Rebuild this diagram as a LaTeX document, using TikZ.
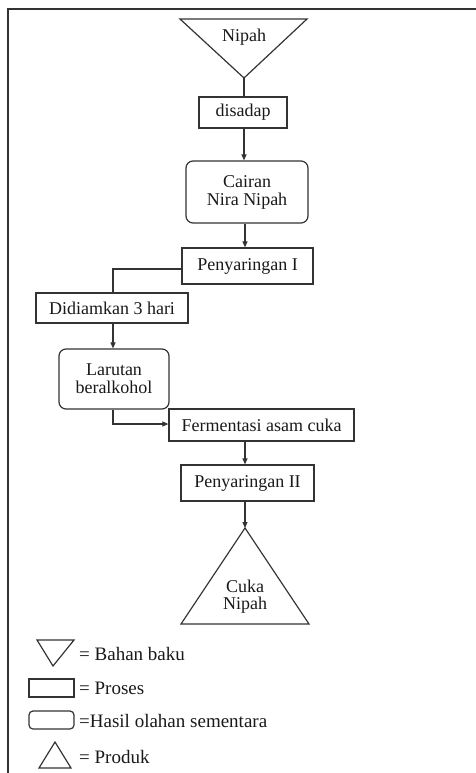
\documentclass[tikz,border=0pt]{standalone}
\usepackage{fontspec}
\setmainfont{Liberation Serif}
\usetikzlibrary{arrows.meta}
\begin{document}
\begin{tikzpicture}[x=1pt,y=-1pt,
  every node/.style={font=\fontsize{18}{19}\selectfont, text=black!90},
  proc/.style={draw=black!80, line width=1.2pt, rectangle, inner sep=0pt},
  hasil/.style={draw=black!80, line width=1.2pt, rectangle, rounded corners=7pt, inner sep=0pt},
  tri/.style={draw=black!80, line width=1.2pt},
  conn/.style={draw=black!80, line width=1.1pt},
  arr/.style={conn, -{Triangle[length=6pt,width=5pt]}},
  lbl/.style={anchor=west, inner sep=0pt, font=\fontsize{19}{20}\selectfont}]
\useasboundingbox (0,0) rectangle (476,773);
% frame
\draw[line width=1.4pt, black!80] (476,9) -- (8,9) -- (8,773);

% Nipah (raw material)
\draw[tri] (180,19) -- (307,19) -- (244,78) -- cycle;
\node (nipah) at (244,37) {Nipah};
\coordinate (nipahapex) at (244,78);

\node[proc, minimum width=88pt, minimum height=31pt] (sadap) at (243,112.5) {disadap};
\node[hasil, minimum width=122pt, minimum height=62pt, align=center] (cairan) at (247,192) {Cairan\\[-1pt]Nira Nipah};
\node[proc, minimum width=131pt, minimum height=36pt] (saring1) at (247.5,266) {Penyaringan I};
\node[proc, minimum width=152pt, minimum height=30pt] (diam) at (112,308) {Didiamkan 3 hari};
\node[hasil, minimum width=110pt, minimum height=60pt, align=center] (larutan) at (114,379) {Larutan\\[-1pt]beralkohol};
\node[proc, minimum width=185pt, minimum height=32pt] (ferm) at (261.5,425) {Fermentasi asam cuka};
\node[proc, minimum width=133pt, minimum height=36pt] (saring2) at (247.5,483) {Penyaringan II};

% Cuka Nipah (product)
\draw[tri] (245,528) -- (309,624) -- (181,624) -- cycle;
\coordinate (cukaapex) at (245,528);
\node[align=center] (cuka) at (245,597) {Cuka\\[-2pt]Nipah};

% connectors
\draw[conn] (nipahapex) -- (sadap.north -| nipahapex);
\draw[arr] (sadap.south -| 244,0) -- (cairan.north -| 244,0);
\draw[arr] (cairan.south -| 245,0) -- (saring1.north -| 245,0);
\draw[conn] (saring1.west |- 0,269) -| (diam.north -| 113,0);
\draw[arr] (diam.south -| 113,0) -- (larutan.north -| 113,0);
\draw[arr] (larutan.south -| 113,0) |- (ferm.west |- 0,424);
\draw[arr] (ferm.south -| 245,0) -- (saring2.north -| 245,0);
\draw[arr] (saring2.south -| 245,0) -- (cukaapex);

% legend
\draw[tri] (37,640) -- (74,640) -- (53,666) -- cycle;
\node[lbl] (l1) at (79,654) {= Bahan baku};
\draw[proc] (29,679) rectangle (74,697);
\node[lbl] (l2) at (79,688) {= Proses};
\draw[hasil, rounded corners=4pt] (29,711) rectangle (74,729);
\node[lbl] (l3) at (79,721) {=Hasil olahan sementara};
\draw[tri] (55,742) -- (71,768) -- (39,768) -- cycle;
\node[lbl] (l4) at (79,757) {= Produk};
\end{tikzpicture}
\end{document}
